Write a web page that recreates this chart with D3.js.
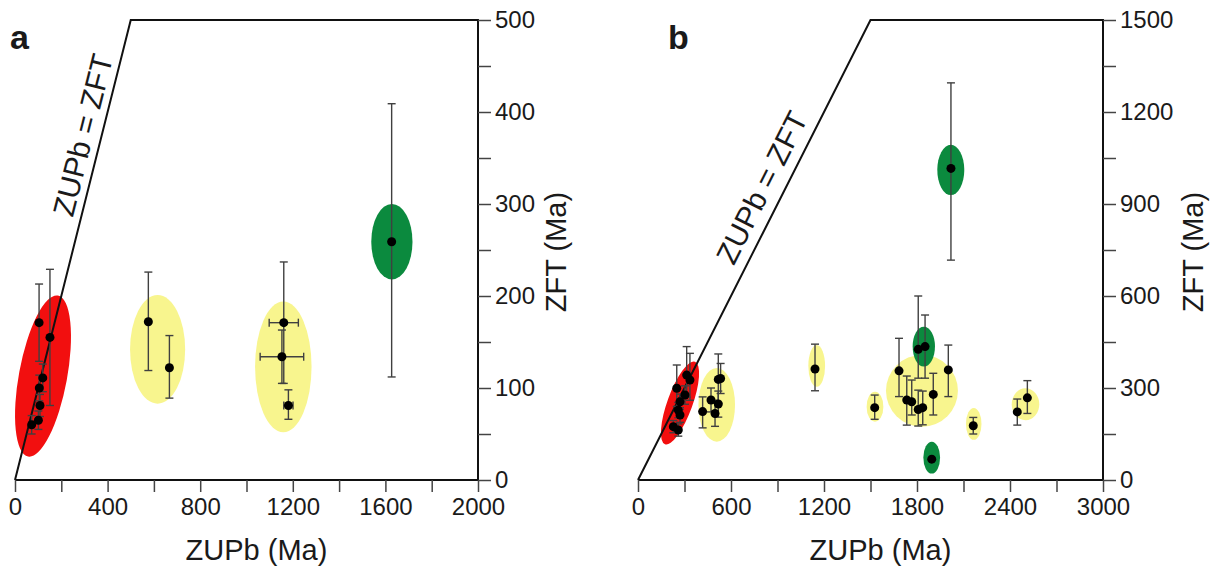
<!DOCTYPE html>
<html>
<head>
<meta charset="utf-8">
<script src="https://cdn.jsdelivr.net/npm/d3@7"></script>
<style>
  body { margin: 0; background: #fff; }
  text { font-family: Arial, "Liberation Sans", sans-serif; fill: #1a1a1a; }
</style>
</head>
<body>
<div id="chart"></div>
<script>
// ---- panel a data (Ma) ----
var aZUPb    = [104, 151, 120, 105, 108, 101, 72, 576, 667, 1161, 1153, 1181, 1627];
var aZFT     = [171, 155, 111, 100, 81, 65, 60, 172, 122, 171, 134, 81, 259];
var aZFTHi   = [213, 229, 126, 114, 93, 75, 70, 226, 157, 237, 163, 98, 409];
var aZFTLo   = [129, 81, 96, 86, 69, 55, 50, 119, 89, 105, 105, 66, 112];
var aZUPbErr = [0, 0, 0, 0, 0, 0, 0, 0, 0, 63, 94, 20, 0];

// sample groups (ellipses) for panel a
var aGroupType = ["red", "yellow", "yellow", "green"];
var aGroupX    = [121, 616, 1159, 1628];
var aGroupY    = [113, 142, 123, 259];
var aGroupRx   = [104, 119, 122, 89];
var aGroupRy   = [89, 59, 71, 41];
var aGroupTilt = [10.5, 0, 0, 0];

// ---- panel b data (Ma) ----
var bZUPb  = [314, 335, 250, 303, 271, 260, 271, 228, 260,
              518, 533, 471, 518, 417, 497,
              1142, 1527,
              1684, 1734, 1766, 1808, 1837, 1905, 2002,
              1808, 1852, 2163, 2447, 2512, 1895, 2019];
var bZFT   = [342, 326, 299, 277, 255, 228, 212, 174, 163,
              328, 331, 261, 248, 223, 217,
              362, 236,
              356, 261, 255, 230, 236, 279, 359,
              426, 435, 177, 222, 268, 68, 1016];
var bZFTHi = [435, 413, 375, 307, 280, 253, 236, 194, 183,
              411, 380, 300, 290, 271, 260,
              443, 277,
              462, 339, 326, 293, 290, 348, 440,
              600, 538, 204, 264, 324, 68, 1295];
var bZFTLo = [270, 260, 240, 247, 230, 203, 188, 154, 143,
              250, 282, 222, 205, 170, 175,
              291, 198,
              272, 179, 212, 176, 180, 212, 272,
              332, 332, 150, 179, 217, 68, 717];

var bGroupType = ["red", "yellow", "yellow", "yellow", "yellow", "yellow", "yellow", "green", "green", "green"];
var bGroupX    = [271, 508, 1153, 1529, 1832, 2166, 2500, 1844, 1895, 2018];
var bGroupY    = [251, 245, 372, 239, 291, 183, 247, 435, 73, 1011];
var bGroupRx   = [81, 118, 54, 54, 232, 50, 89, 72, 54, 87];
var bGroupRy   = [143, 120, 68, 49, 117, 52, 52, 65, 52, 82];
var bGroupTilt = [20, 0, 0, 0, 0, 0, 0, 0, 0, 0];

// axis ticks
var aXTicks = d3.range(0, 2001, 200), aXLabelStep = 400;
var aYTicks = d3.range(0, 501, 50),   aYLabelStep = 100;
var bXTicks = d3.range(0, 3001, 300), bXLabelStep = 600;
var bYTicks = d3.range(0, 1501, 150), bYLabelStep = 300;

var fills = { red: "#f20f0f", yellow: "#f8f58e", green: "#0b8a3e" };

var svg = d3.select("#chart").append("svg")
  .attr("width", 1217)
  .attr("height", 569);

function drawPanel(p) {
  var x = d3.scaleLinear().domain([0, p.xMax]).range([p.left, p.right]);
  var y = d3.scaleLinear().domain([0, p.yMax]).range([480, 20]);
  var g = svg.append("g");

  // ellipses for the sample groups
  g.selectAll("ellipse")
    .data(p.gType.map(function(t, i) { return i; }))
    .enter().append("ellipse")
    .attr("cx", i => x(p.gX[i]))
    .attr("cy", i => y(p.gY[i]))
    .attr("rx", i => x(p.gX[i] + p.gRx[i]) - x(p.gX[i]))
    .attr("ry", i => y(p.gY[i]) - y(p.gY[i] + p.gRy[i]))
    .attr("transform", i => "rotate(" + p.gTilt[i] + "," + x(p.gX[i]) + "," + y(p.gY[i]) + ")")
    .attr("fill", i => fills[p.gType[i]]);

  // frame: 1:1 line, top, right side
  var top = p.yMax;
  g.append("path")
    .attr("d", d3.line()([[x(0), y(0)], [x(top), y(top)], [x(p.xMax), y(top)], [x(p.xMax), y(0)]]))
    .attr("fill", "none")
    .attr("stroke", "#111")
    .attr("stroke-width", 2);

  // bottom axis
  var xAxis = d3.axisBottom(x)
    .tickValues(p.xTicks)
    .tickSize(12)
    .tickPadding(5)
    .tickFormat(d => d % p.xStep === 0 ? d : "");
  var xg = g.append("g").attr("transform", "translate(0,480)").call(xAxis);
  xg.select(".domain").attr("stroke", "#111").attr("stroke-width", 2).attr("d", "M" + p.left + ",0H" + p.right);
  xg.selectAll(".tick line").attr("stroke", "#444").attr("stroke-width", 1.5);
  xg.selectAll("text").attr("font-size", 24).attr("dy", "0.76em").style("font-family", "Arial, 'Liberation Sans', sans-serif").attr("fill", "#1a1a1a");

  // right axis
  var yAxis = d3.axisRight(y)
    .tickValues(p.yTicks)
    .tickSize(13)
    .tickPadding(4)
    .tickFormat(d => d % p.yStep === 0 ? d : "");
  var yg = g.append("g").attr("transform", "translate(" + p.right + ",0)").call(yAxis);
  yg.select(".domain").remove();
  yg.selectAll(".tick line").attr("stroke", "#444").attr("stroke-width", 1.5);
  yg.selectAll("text").attr("font-size", 24).style("font-family", "Arial, 'Liberation Sans', sans-serif").attr("fill", "#1a1a1a");

  // error bars
  var idx = p.zupb.map(function(d, i) { return i; });
  var cap = 4;
  var eb = g.append("g").attr("stroke", "#404040").attr("stroke-width", 1.4);
  idx.forEach(function(i) {
    if (p.hi[i] === p.lo[i]) return;
    var cx = x(p.zupb[i]);
    eb.append("line").attr("x1", cx).attr("x2", cx).attr("y1", y(p.hi[i])).attr("y2", y(p.lo[i]));
    eb.append("line").attr("x1", cx - cap).attr("x2", cx + cap).attr("y1", y(p.hi[i])).attr("y2", y(p.hi[i]));
    eb.append("line").attr("x1", cx - cap).attr("x2", cx + cap).attr("y1", y(p.lo[i])).attr("y2", y(p.lo[i]));
    if (p.xErr && p.xErr[i] > 0) {
      var cy = y(p.zft[i]);
      var x0 = x(p.zupb[i] - p.xErr[i]), x1 = x(p.zupb[i] + p.xErr[i]);
      eb.append("line").attr("x1", x0).attr("x2", x1).attr("y1", cy).attr("y2", cy);
      eb.append("line").attr("x1", x0).attr("x2", x0).attr("y1", cy - cap).attr("y2", cy + cap);
      eb.append("line").attr("x1", x1).attr("x2", x1).attr("y1", cy - cap).attr("y2", cy + cap);
    }
  });

  // points
  g.selectAll("circle")
    .data(idx)
    .enter().append("circle")
    .attr("cx", i => x(p.zupb[i]))
    .attr("cy", i => y(p.zft[i]))
    .attr("r", 4.5)
    .attr("fill", "#000");

  // 1:1 label along the line
  var p0 = [x(0), y(0)], p1 = [x(top), y(top)];
  var ang = Math.atan2(p1[1] - p0[1], p1[0] - p0[0]) * 180 / Math.PI;
  var pt = [p0[0] + p.t * (p1[0] - p0[0]), p0[1] + p.t * (p1[1] - p0[1])];
  g.append("text")
    .attr("transform", "translate(" + pt[0] + "," + pt[1] + ") rotate(" + ang + ")")
    .attr("y", p.off)
    .attr("text-anchor", "middle")
    .attr("font-size", 30)
    .text("ZUPb = ZFT");

  // axis titles
  g.append("text")
    .attr("x", (p.left + p.right) / 2 + 10)
    .attr("y", 560)
    .attr("text-anchor", "middle")
    .attr("font-size", 29)
    .text("ZUPb (Ma)");

  g.append("text")
    .attr("transform", "translate(" + (p.right + p.titleOff) + ",252) rotate(-90)")
    .attr("text-anchor", "middle")
    .attr("font-size", 29)
    .text("ZFT (Ma)");

  // panel letter
  g.append("text")
    .attr("x", p.letterX)
    .attr("y", 49)
    .attr("font-size", 34)
    .attr("font-weight", "bold")
    .text(p.letter);
}

drawPanel({
  letter: "a", letterX: 10, left: 15, right: 478, xMax: 2000, yMax: 500, t: 0.74, off: -8, titleOff: 88,
  xTicks: aXTicks, xStep: aXLabelStep, yTicks: aYTicks, yStep: aYLabelStep,
  zupb: aZUPb, zft: aZFT, hi: aZFTHi, lo: aZFTLo, xErr: aZUPbErr,
  gType: aGroupType, gX: aGroupX, gY: aGroupY, gRx: aGroupRx, gRy: aGroupRy, gTilt: aGroupTilt
});

drawPanel({
  letter: "b", letterX: 668, left: 638, right: 1103, xMax: 3000, yMax: 1500, t: 0.615, off: -11, titleOff: 100,
  xTicks: bXTicks, xStep: bXLabelStep, yTicks: bYTicks, yStep: bYLabelStep,
  zupb: bZUPb, zft: bZFT, hi: bZFTHi, lo: bZFTLo, xErr: null,
  gType: bGroupType, gX: bGroupX, gY: bGroupY, gRx: bGroupRx, gRy: bGroupRy, gTilt: bGroupTilt
});
</script>
</body>
</html>
